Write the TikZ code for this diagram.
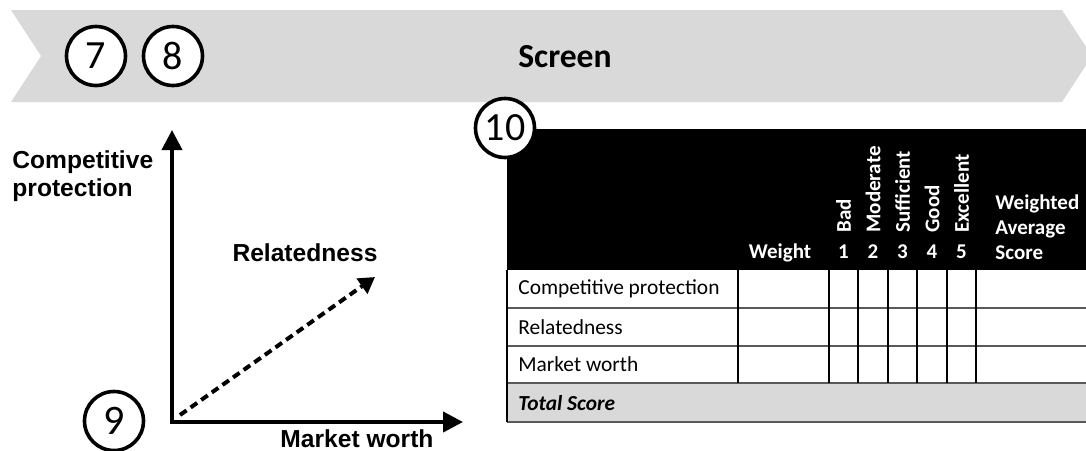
\documentclass[tikz,border=0pt]{standalone}
\usepackage{fontspec}
\setmainfont{Carlito}
\newfontfamily\arialfont{Liberation Sans}
\usetikzlibrary{arrows.meta}

\definecolor{bannergray}{HTML}{D9D9D9}
\definecolor{rulegray}{HTML}{595959}

\tikzstyle{num} = [circle, draw, fill=white, line width=1.8pt, minimum size=29.5pt, inner sep=0pt, font=\fontsize{20}{24}\selectfont]
\tikzstyle{ax} = [font=\arialfont\bfseries\fontsize{12.3}{14}\selectfont, inner sep=0pt]
\tikzstyle{hd} = [text=white, font=\bfseries\fontsize{10.5}{12.5}\selectfont, inner sep=0pt]
\tikzstyle{rot} = [hd, rotate=90, anchor=west]
\tikzstyle{cell} = [anchor=west, inner sep=0pt, font=\fontsize{10.7}{13}\selectfont]
\tikzstyle{axis} = [line width=2pt, miter limit=4, {Triangle[length=10pt,width=10pt]}-{Triangle[length=10pt,width=10pt]}]
\tikzstyle{dashline} = [line width=2pt, dash pattern=on 4pt off 2.5pt, -{Triangle[length=8pt,width=9pt]}]

\begin{document}
\begin{tikzpicture}[x=0.5pt, y=-0.5pt]
	\useasboundingbox (0,0) rectangle (1086,450);

	% banner
	\fill [bannergray] (11,10) -- (1062,10) -- (1092,56) -- (1062,102) -- (11,102) -- (41,56) -- cycle;
	\node [num] (seven) at (96,56) {7};
	\node [num] (eight) at (173,56) {8};
	\node [font=\bfseries\fontsize{16.8}{20}\selectfont] (screen) at (565,57) {Screen};

	% chart
	\coordinate (o) at (172,422);
	\coordinate (ytip) at (172,130);
	\coordinate (xtip) at (463,422);
	\coordinate (rstart) at (180,415);
	\coordinate (rtip) at (375,277);
	\draw [axis] (ytip) -- (o) -- (xtip);
	\draw [dashline] (rstart) -- (rtip);
	\node [ax, align=left, anchor=west] (cp) at (12,176) {Competitive\\protection};
	\node [ax] (rel) at (305,253) {Relatedness};
	\node [ax] (mw) at (357,439) {Market worth};
	\node [num, font=\fontsize{21}{24}\selectfont] (nine) at (114,421) {9};

	% table
	\fill [black] (507,129) rectangle (1086,270);
	\fill [bannergray] (507,383) rectangle (1086,422);
	\draw [rulegray, line width=0.8pt] (507,308) -- (1086,308);
	\draw [rulegray, line width=0.8pt] (507,346) -- (1086,346);
	\draw [rulegray, line width=1pt] (507,383) -- (1086,383);
	\draw [rulegray, line width=1pt] (507,422) -- (1086,422);
	\draw [line width=0.6pt] (507,270) -- (507,422);
	\draw [line width=0.6pt] (738,270) -- (738,383);
	\draw [line width=0.6pt] (829,270) -- (829,383);
	\draw [line width=0.6pt] (858,270) -- (858,383);
	\draw [line width=0.6pt] (888,270) -- (888,383);
	\draw [line width=0.6pt] (917,270) -- (917,383);
	\draw [line width=0.6pt] (947,270) -- (947,383);
	\draw [line width=0.6pt] (976,270) -- (976,383);

	\node [hd, anchor=base] (weight) at (780,258) {Weight};
	\node [hd, anchor=base] (s1) at (843.5,258) {1};
	\node [hd, anchor=base] (s2) at (873,258) {2};
	\node [hd, anchor=base] (s3) at (902.5,258) {3};
	\node [hd, anchor=base] (s4) at (932,258) {4};
	\node [hd, anchor=base] (s5) at (961.5,258) {5};
	\node [rot] (bad) at (843.5,233) {Bad};
	\node [rot] (moderate) at (873,233) {Moderate};
	\node [rot] (sufficient) at (902.5,233) {Sufficient};
	\node [rot] (good) at (932,233) {Good};
	\node [rot] (excellent) at (961.5,233) {Excellent};
	\node [hd, align=left, anchor=north west] (was) at (995,194) {Weighted\\Average\\Score};

	\node [cell] (rowcp) at (518,289) {Competitive protection};
	\node [cell] (rowrel) at (518,327) {Relatedness};
	\node [cell] (rowmw) at (518,364.5) {Market worth};
	\node [cell, font=\bfseries\itshape\fontsize{10.7}{13}\selectfont] (total) at (518,403) {Total Score};

	\node [num] (ten) at (505,128) {10};
\end{tikzpicture}
\end{document}
